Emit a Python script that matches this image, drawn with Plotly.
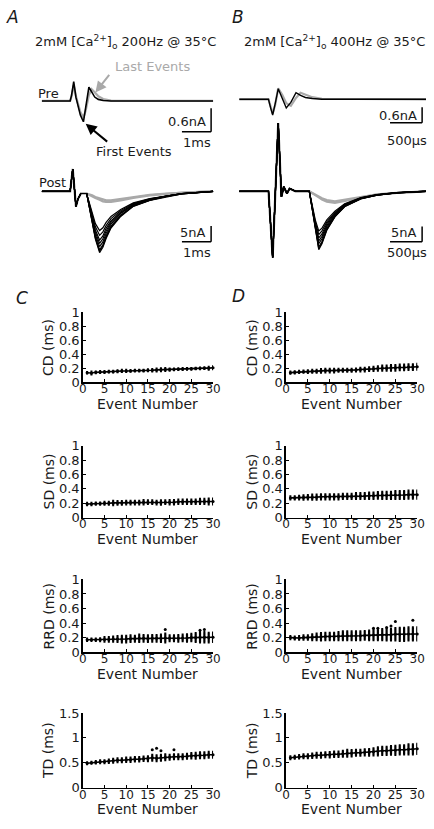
import plotly.graph_objects as go

W, H = 434, 829


def fx(x):
    return x / W


def fy(y):
    return 1 - y / H


# ---------------- Panel A traces (time ms, current nA) ----------------
A_PRE_T = [0, 0.967, 1.017, 1.09, 1.167, 1.233, 1.317, 1.423, 1.5, 1.61, 1.7, 1.81, 1.933, 2.1, 2.367, 5.867]
A_PRE_FIRST = [0, 0, 0.15, 0.49, 0.09, -0.11, -0.36, -0.53, -0.11, 0.35, 0.24, 0.1, 0.04, 0.01, 0, 0]
A_PRE_LAST = [0, 0, 0.12, 0.40, 0.12, -0.05, -0.28, -0.42, -0.25, 0.15, 0.30, 0.22, 0.12, 0.05, 0.01, 0]

A_POST_T = [0, 0.967, 1.057, 1.167, 1.233, 1.333, 1.533, 1.61, 1.723, 1.833, 1.977, 2.09, 2.2,
            2.367, 2.7, 3.133, 3.7, 4.267, 4.8, 5.367, 5.867]
A_POST_FIRST_1 = [0, 0, 7.1, -4.8, -2.5, -0.7, -0.7, -4.2, -9.8, -15.2, -19.5, -17.8, -15.0, -11.7, -8.0, -4.8, -2.9, -1.7, -0.8, -0.4, 0]
A_POST_FIRST_2 = [0, 0, 7.1, -4.8, -2.5, -0.7, -0.7, -4.1, -9.5, -14.9, -19.0, -17.4, -14.6, -11.4, -7.8, -4.7, -2.85, -1.65, -0.8, -0.4, 0]
A_POST_FIRST_3 = [0, 0, 7.1, -4.8, -2.5, -0.7, -0.7, -4.0, -9.3, -14.6, -18.6, -17.0, -14.2, -11.1, -7.6, -4.6, -2.8, -1.6, -0.8, -0.4, 0]
A_POST_FIRST_4 = [0, 0, 7.1, -4.8, -2.5, -0.7, -0.7, -3.8, -8.8, -13.8, -17.6, -16.1, -13.4, -10.4, -7.1, -4.4, -2.6, -1.5, -0.75, -0.4, 0]
A_POST_FIRST_5 = [0, 0, 7.1, -4.8, -2.5, -0.7, -0.7, -3.6, -8.4, -13.0, -16.6, -15.1, -12.6, -9.9, -6.9, -4.25, -2.55, -1.5, -0.72, -0.38, 0]
A_POST_FIRST_6 = [0, 0, 7.1, -4.8, -2.5, -0.7, -0.7, -3.5, -8.0, -12.3, -15.5, -14.2, -11.8, -9.4, -6.6, -4.1, -2.5, -1.45, -0.7, -0.35, 0]
A_POST_FIRST_7 = [0, 0, 7.1, -4.8, -2.5, -0.7, -0.7, -3.3, -7.4, -11.3, -14.0, -12.9, -10.9, -8.7, -6.2, -3.9, -2.4, -1.4, -0.7, -0.35, 0]
A_POST_FIRST_8 = [0, 0, 7.1, -4.8, -2.5, -0.7, -0.7, -3.1, -6.8, -10.3, -12.5, -11.6, -9.9, -8.0, -5.8, -3.7, -2.3, -1.35, -0.7, -0.35, 0]
A_POST_LAST_1 = [0, 0, 7.1, -4.8, -2.5, -0.7, -0.7, -0.9, -1.3, -1.8, -2.3, -2.7, -2.9, -2.9, -2.5, -1.8, -1.1, -0.7, -0.4, -0.2, 0]
A_POST_LAST_2 = [0, 0, 7.1, -4.8, -2.5, -0.7, -0.7, -1.0, -1.5, -2.1, -2.7, -3.2, -3.4, -3.4, -2.9, -2.1, -1.3, -0.8, -0.45, -0.2, 0]

# ---------------- Panel B traces (time ms, current nA) ----------------
B_PRE_T = [0, 0.4545, 0.4848, 0.5197, 0.5606, 0.6061, 0.6667, 0.7318, 0.803, 0.8833, 0.9545, 1.0303, 1.1364, 1.2879, 2.9091]
B_PRE_FIRST = [0, 0, -0.3, -0.6, -0.15, 0.4, 0.05, -0.33, -0.12, 0.25, 0.15, 0.07, 0.03, 0, 0]
B_PRE_LAST = [0, 0, -0.25, -0.55, -0.2, 0.42, 0.18, -0.15, -0.25, 0.05, 0.25, 0.18, 0.08, 0.02, 0]

B_POST_T = [0, 0.4545, 0.4848, 0.5197, 0.553, 0.5758, 0.6061, 0.6364, 0.6561, 0.6924, 0.7424, 0.7833, 0.8788,
            1.0909, 1.1364, 1.1864, 1.2379, 1.2879, 1.3636, 1.4894, 1.6409, 1.8939, 2.147, 2.45, 2.853, 2.9091]
B_POST_FIRST_1 = [0, 0, -10, -21.7, -5, 8, 22.4, 8, -1.8, 1.5, -0.7, 0.9, 0, 0, -6.1, -13.6, -19.2, -17.2, -12.8, -8.4, -5.1, -2.5, -1.3, -0.5, 0, 0]
B_POST_FIRST_2 = [0, 0, -10, -21.7, -5, 8, 22.4, 8, -1.8, 1.5, -0.7, 0.9, 0, 0, -6.0, -13.3, -18.8, -16.9, -12.6, -8.3, -5.0, -2.45, -1.3, -0.5, 0, 0]
B_POST_FIRST_3 = [0, 0, -10, -21.7, -5, 8, 22.4, 8, -1.8, 1.5, -0.7, 0.9, 0, 0, -5.8, -13.0, -18.3, -16.5, -12.3, -8.1, -4.9, -2.4, -1.25, -0.5, 0, 0]
B_POST_FIRST_4 = [0, 0, -10, -21.7, -5, 8, 22.4, 8, -1.8, 1.5, -0.7, 0.9, 0, 0, -5.5, -12.3, -17.2, -15.6, -11.7, -7.8, -4.7, -2.3, -1.2, -0.5, 0, 0]
B_POST_FIRST_5 = [0, 0, -10, -21.7, -5, 8, 22.4, 8, -1.8, 1.5, -0.7, 0.9, 0, 0, -5.3, -11.7, -16.3, -14.8, -11.2, -7.5, -4.55, -2.25, -1.2, -0.5, 0, 0]
B_POST_FIRST_6 = [0, 0, -10, -21.7, -5, 8, 22.4, 8, -1.8, 1.5, -0.7, 0.9, 0, 0, -5.0, -11.0, -15.3, -14.0, -10.6, -7.2, -4.4, -2.2, -1.15, -0.45, 0, 0]
B_POST_FIRST_7 = [0, 0, -10, -21.7, -5, 8, 22.4, 8, -1.8, 1.5, -0.7, 0.9, 0, 0, -4.7, -10.3, -14.2, -13.0, -10.0, -6.9, -4.25, -2.15, -1.1, -0.45, 0, 0]
B_POST_FIRST_8 = [0, 0, -10, -21.7, -5, 8, 22.4, 8, -1.8, 1.5, -0.7, 0.9, 0, 0, -4.4, -9.6, -13.0, -12.1, -9.4, -6.5, -4.1, -2.1, -1.1, -0.45, 0, 0]
B_POST_LAST_1 = [0, 0, -10, -21.7, -5, 8, 22.4, 8, -1.8, 1.5, -0.7, 0.9, 0, 0, -0.6, -1.1, -1.7, -2.3, -2.9, -3.3, -2.8, -1.8, -1.0, -0.5, -0.1, 0]
B_POST_LAST_2 = [0, 0, -10, -21.7, -5, 8, 22.4, 8, -1.8, 1.5, -0.7, 0.9, 0, 0, -0.7, -1.3, -2.0, -2.7, -3.4, -3.8, -3.2, -2.0, -1.1, -0.55, -0.1, 0]

# ---------------- Panels C and D (event number vs ms) ----------------
EVENTS = list(range(1, 31))

C_CD = [0.135, 0.13, 0.14, 0.145, 0.145, 0.15, 0.15, 0.155, 0.16, 0.16, 0.16, 0.165, 0.165, 0.165, 0.17,
        0.17, 0.175, 0.178, 0.18, 0.18, 0.182, 0.185, 0.187, 0.19, 0.19, 0.195, 0.197, 0.2, 0.2, 0.205]
C_CD_ERR = [0.01, 0.02, 0.012, 0.012, 0.012, 0.012, 0.012, 0.012, 0.015, 0.015, 0.012, 0.012, 0.012, 0.012, 0.012,
            0.015, 0.02, 0.02, 0.02, 0.015, 0.012, 0.012, 0.012, 0.012, 0.01, 0.01, 0.01, 0.012, 0.02, 0.02]
C_SD = [0.19, 0.19, 0.195, 0.195, 0.2, 0.2, 0.205, 0.205, 0.205, 0.21, 0.21, 0.21, 0.21, 0.215, 0.215,
        0.215, 0.21, 0.21, 0.215, 0.215, 0.215, 0.22, 0.22, 0.22, 0.22, 0.22, 0.225, 0.225, 0.225, 0.225]
C_SD_ERR = [0.015, 0.015, 0.015, 0.015, 0.02, 0.02, 0.03, 0.025, 0.025, 0.025, 0.025, 0.025, 0.025, 0.03, 0.025,
            0.025, 0.025, 0.03, 0.025, 0.03, 0.03, 0.03, 0.03, 0.03, 0.03, 0.03, 0.035, 0.035, 0.04, 0.04]
C_RRD = [0.17, 0.17, 0.17, 0.17, 0.175, 0.175, 0.18, 0.18, 0.18, 0.18, 0.185, 0.185, 0.19, 0.19, 0.185,
         0.19, 0.19, 0.19, 0.195, 0.19, 0.19, 0.19, 0.195, 0.195, 0.2, 0.2, 0.205, 0.205, 0.2, 0.205]
C_RRD_ERR = [0.015, 0.015, 0.015, 0.02, 0.03, 0.03, 0.035, 0.04, 0.045, 0.045, 0.045, 0.04, 0.05, 0.045, 0.045,
             0.045, 0.045, 0.05, 0.06, 0.04, 0.04, 0.045, 0.045, 0.05, 0.05, 0.06, 0.07, 0.07, 0.065, 0.065]
C_RRD_OUT_X = [19, 27, 28]
C_RRD_OUT_Y = [0.31, 0.3, 0.31]
C_TD = [0.49, 0.5, 0.51, 0.52, 0.52, 0.53, 0.54, 0.55, 0.55, 0.56, 0.56, 0.57, 0.57, 0.58, 0.58,
        0.6, 0.59, 0.6, 0.61, 0.61, 0.62, 0.62, 0.62, 0.63, 0.64, 0.64, 0.65, 0.65, 0.66, 0.66]
C_TD_ERR = [0.02, 0.02, 0.025, 0.03, 0.03, 0.035, 0.04, 0.04, 0.04, 0.045, 0.045, 0.045, 0.045, 0.045, 0.05,
            0.06, 0.06, 0.06, 0.06, 0.05, 0.05, 0.05, 0.05, 0.05, 0.055, 0.06, 0.06, 0.06, 0.06, 0.06]
C_TD_OUT_X = [16, 17, 18, 21]
C_TD_OUT_Y = [0.76, 0.79, 0.74, 0.76]

D_CD = [0.135, 0.14, 0.145, 0.15, 0.15, 0.155, 0.155, 0.16, 0.165, 0.165, 0.165, 0.17, 0.17, 0.17, 0.17,
        0.175, 0.18, 0.18, 0.185, 0.19, 0.195, 0.2, 0.2, 0.205, 0.205, 0.21, 0.21, 0.215, 0.215, 0.22]
D_CD_ERR = [0.015, 0.015, 0.015, 0.015, 0.02, 0.02, 0.02, 0.025, 0.025, 0.025, 0.025, 0.02, 0.02, 0.02, 0.02,
            0.02, 0.025, 0.025, 0.025, 0.03, 0.03, 0.035, 0.035, 0.04, 0.04, 0.04, 0.04, 0.04, 0.04, 0.04]
D_SD = [0.275, 0.275, 0.28, 0.28, 0.285, 0.285, 0.285, 0.29, 0.29, 0.29, 0.29, 0.29, 0.295, 0.295, 0.295,
        0.3, 0.3, 0.3, 0.305, 0.305, 0.31, 0.31, 0.31, 0.31, 0.315, 0.315, 0.315, 0.32, 0.32, 0.32]
D_SD_ERR = [0.02, 0.02, 0.025, 0.03, 0.03, 0.035, 0.035, 0.035, 0.035, 0.035, 0.035, 0.035, 0.035, 0.035, 0.035,
            0.04, 0.04, 0.04, 0.045, 0.045, 0.045, 0.05, 0.05, 0.05, 0.055, 0.055, 0.055, 0.055, 0.055, 0.055]
D_RRD = [0.2, 0.195, 0.195, 0.2, 0.2, 0.205, 0.21, 0.21, 0.215, 0.215, 0.215, 0.22, 0.225, 0.225, 0.225,
         0.225, 0.225, 0.23, 0.23, 0.235, 0.235, 0.24, 0.24, 0.24, 0.245, 0.245, 0.245, 0.25, 0.25, 0.25]
D_RRD_ERR = [0.02, 0.02, 0.025, 0.03, 0.03, 0.04, 0.045, 0.05, 0.05, 0.05, 0.05, 0.055, 0.06, 0.06, 0.06,
             0.06, 0.06, 0.06, 0.065, 0.07, 0.07, 0.075, 0.08, 0.08, 0.085, 0.09, 0.09, 0.09, 0.09, 0.09]
D_RRD_OUT_X = [20, 21, 23, 24, 25, 29]
D_RRD_OUT_Y = [0.33, 0.33, 0.34, 0.36, 0.42, 0.44]
D_TD = [0.6, 0.61, 0.62, 0.63, 0.63, 0.64, 0.65, 0.65, 0.66, 0.66, 0.67, 0.67, 0.68, 0.69, 0.69,
        0.7, 0.7, 0.71, 0.71, 0.72, 0.73, 0.74, 0.74, 0.75, 0.75, 0.76, 0.76, 0.77, 0.77, 0.78]
D_TD_ERR = [0.03, 0.03, 0.035, 0.04, 0.04, 0.045, 0.05, 0.05, 0.05, 0.055, 0.055, 0.055, 0.06, 0.07, 0.065,
            0.06, 0.06, 0.06, 0.065, 0.07, 0.08, 0.08, 0.08, 0.085, 0.09, 0.09, 0.09, 0.1, 0.1, 0.1]

X_TICKS = [0, 5, 10, 15, 20, 25, 30]
Y_TICKS_1 = [0, 0.2, 0.4, 0.6, 0.8, 1]
Y_TICKTEXT_1 = ["0", "0.2", "0.4", "0.6", "0.8", "1"]
Y_TICKS_TD = [0, 0.5, 1, 1.5]
Y_TICKTEXT_TD = ["0", "0.5", "1", "1.5"]

FONT = "DejaVu Sans"
GREY = "#a9a9a9"
TXT = "#1a1a1a"

fig = go.Figure()
layout = dict(
    width=W, height=H, margin=dict(l=0, r=0, t=0, b=0),
    paper_bgcolor="white", plot_bgcolor="rgba(0,0,0,0)", showlegend=False,
    font=dict(family=FONT, size=13, color=TXT),
)

# ---------- top axes ----------
A_X0, A_PXMS = 39, 30.0
B_X0, B_PXMS = 242, 66.0
hidden = dict(visible=False, showgrid=False, zeroline=False, fixedrange=True)
ax_a = dict(hidden, domain=[fx(30), fx(218)], range=[(30 - A_X0) / A_PXMS, (218 - A_X0) / A_PXMS])
ax_b = dict(hidden, domain=[fx(236), fx(434)], range=[(236 - B_X0) / B_PXMS, (434 - B_X0) / B_PXMS])


def yax(top, bot, base, ppn, anchor):
    return dict(hidden, domain=[fy(bot), fy(top)], range=[(base - bot) / ppn, (base - top) / ppn], anchor=anchor)


layout["xaxis"] = dict(ax_a, anchor="y")
layout["yaxis"] = yax(60, 135, 95.7, 40.0, "x")
layout["xaxis2"] = dict(ax_a, anchor="y2")
layout["yaxis2"] = yax(150, 262, 187.7, 3.2, "x2")
layout["xaxis3"] = dict(ax_b, anchor="y3")
layout["yaxis3"] = yax(60, 135, 94.0, 26.7, "x3")
layout["xaxis4"] = dict(ax_b, anchor="y4")
layout["yaxis4"] = yax(105, 265, 187.7, 3.1, "x4")


def line(t, v, xa, ya, color="black", width=1.2):
    fig.add_trace(go.Scatter(x=t, y=v, mode="lines", xaxis=xa, yaxis=ya, cliponaxis=False,
                             line=dict(color=color, width=width), hoverinfo="skip"))


line(A_PRE_T, A_PRE_LAST, "x", "y", GREY, 2.2)
line(A_PRE_T, A_PRE_FIRST, "x", "y", "black", 1.6)
for tr in [A_POST_LAST_1, A_POST_LAST_2]:
    line(A_POST_T, tr, "x2", "y2", GREY, 2.2)
for tr in [A_POST_FIRST_8, A_POST_FIRST_7, A_POST_FIRST_6, A_POST_FIRST_5,
           A_POST_FIRST_4, A_POST_FIRST_3, A_POST_FIRST_2, A_POST_FIRST_1]:
    line(A_POST_T, tr, "x2", "y2", "black", 1.2)
line(B_PRE_T, B_PRE_LAST, "x3", "y3", GREY, 2.2)
line(B_PRE_T, B_PRE_FIRST, "x3", "y3", "black", 1.4)
for tr in [B_POST_LAST_1, B_POST_LAST_2]:
    line(B_POST_T, tr, "x4", "y4", GREY, 2.2)
for tr in [B_POST_FIRST_8, B_POST_FIRST_7, B_POST_FIRST_6, B_POST_FIRST_5,
           B_POST_FIRST_4, B_POST_FIRST_3, B_POST_FIRST_2, B_POST_FIRST_1]:
    line(B_POST_T, tr, "x4", "y4", "black", 1.2)

# scale bars (data units)
shapes = []


def scalebar(xr, yr, x_end, y_low, dx, dy):
    s = dict(type="line", xref=xr, yref=yr, line=dict(color="black", width=1.5))
    shapes.append(dict(s, x0=x_end, x1=x_end, y0=y_low, y1=y_low + dy))
    shapes.append(dict(s, x0=x_end - dx, x1=x_end, y0=y_low, y1=y_low))


scalebar("x", "y", (213 - A_X0) / A_PXMS, (95.7 - 127) / 40.0, 1.0, 0.6)
scalebar("x2", "y2", (213 - A_X0) / A_PXMS, (187.7 - 239) / 3.2, 1.0, 5.0)
scalebar("x3", "y3", (430 - B_X0) / B_PXMS, (94 - 118) / 26.7, 0.5, 0.6)
scalebar("x4", "y4", (430 - B_X0) / B_PXMS, (187.7 - 239) / 3.1, 0.5, 5.0)

# ---------- bottom axes ----------
COLS = {"C": (81, 215), "D": (290, 425)}
ROWS = [(311, 382), (447, 520), (583, 657), (719, 795)]
NAMES = ["CD (ms)", "SD (ms)", "RRD (ms)", "TD (ms)"]
SERIES = {
    "C": [(C_CD, C_CD_ERR, None, None), (C_SD, C_SD_ERR, None, None),
          (C_RRD, C_RRD_ERR, C_RRD_OUT_X, C_RRD_OUT_Y), (C_TD, C_TD_ERR, C_TD_OUT_X, C_TD_OUT_Y)],
    "D": [(D_CD, D_CD_ERR, None, None), (D_SD, D_SD_ERR, None, None),
          (D_RRD, D_RRD_ERR, D_RRD_OUT_X, D_RRD_OUT_Y), (D_TD, D_TD_ERR, None, None)],
}
annotations = []
idx = 5
for col in ["C", "D"]:
    x0, x1 = COLS[col]
    for r, (top, bot) in enumerate(ROWS):
        xa, ya = f"x{idx}", f"y{idx}"
        td = (r == 3)
        layout[f"xaxis{idx}"] = dict(
            domain=[fx(x0), fx(x1)], range=[0, 30], anchor=ya, tickvals=X_TICKS,
            showline=True, linecolor="black", linewidth=1.5, ticks="inside", ticklen=3,
            tickcolor="black", showgrid=False, zeroline=False, fixedrange=True,
            ticklabelstandoff=-5,
            tickfont=dict(family=FONT, size=12, color=TXT))
        layout[f"yaxis{idx}"] = dict(
            domain=[fy(bot), fy(top)], range=[0, 1.5] if td else [0, 1], anchor=xa,
            tickvals=Y_TICKS_TD if td else Y_TICKS_1, ticktext=Y_TICKTEXT_TD if td else Y_TICKTEXT_1,
            showline=True, linecolor="black", linewidth=1.5, ticks="inside", ticklen=3,
            tickcolor="black", showgrid=False, zeroline=False, fixedrange=True,
            ticklabelstandoff=-1,
            tickfont=dict(family=FONT, size=13, color=TXT))
        vals, errs, ox, oy = SERIES[col][r]
        fig.add_trace(go.Scatter(
            x=EVENTS, y=vals, mode="lines+markers", xaxis=xa, yaxis=ya, cliponaxis=False,
            line=dict(color="black", width=1.6), marker=dict(color="black", size=3),
            error_y=dict(type="data", array=errs, color="black", thickness=2.2, width=1),
            hoverinfo="skip"))
        if ox:
            fig.add_trace(go.Scatter(x=ox, y=oy, mode="markers", xaxis=xa, yaxis=ya, cliponaxis=False,
                                     marker=dict(color="black", size=3), hoverinfo="skip"))
        annotations.append(dict(text="Event Number", x=fx((x0 + x1) / 2), y=fy(bot + 22),
                                xref="paper", yref="paper", showarrow=False,
                                font=dict(family=FONT, size=14, color=TXT),
                                xanchor="center", yanchor="middle"))
        annotations.append(dict(text=NAMES[r], x=fx(x0 - 35), y=fy((top + bot) / 2),
                                xref="paper", yref="paper", showarrow=False, textangle=-90,
                                font=dict(family=FONT, size=14, color=TXT),
                                xanchor="center", yanchor="middle"))
        idx += 1


def text(t, x, y, size=13, color=TXT, xanchor="center", italic=False):
    annotations.append(dict(text=f"<i>{t}</i>" if italic else t, x=fx(x), y=fy(y), xref="paper",
                            yref="paper", showarrow=False, xanchor=xanchor, yanchor="middle",
                            font=dict(family=FONT, size=size, color=color)))


text("A", 9, 10, 17, italic=True)
text("B", 241, 10, 17, italic=True)
text("C", 18, 296, 17, italic=True)
text("D", 241, 294, 17, italic=True)
text("2mM [Ca<sup>2+</sup>]<sub>o</sub> 200Hz @ 35°C", 125, 36, 13)
text("2mM [Ca<sup>2+</sup>]<sub>o</sub> 400Hz @ 35°C", 340, 36, 13)
text("Pre", 46, 88, 13)
text("Post", 50, 179, 13)
text("Last Events", 153, 61, 13, GREY)
text("First Events", 134, 147, 13)
text("0.6nA", 210, 117, 13, xanchor="right")
text("1ms", 198, 138, 13)
text("5nA", 210, 230, 13, xanchor="right")
text("1ms", 198, 250, 13)
text("0.6nA", 427, 110, 13, xanchor="right")
text("500µs", 414, 136, 13)
text("5nA", 427, 230, 13, xanchor="right")
text("500µs", 414, 250, 13)

# arrows
annotations.append(dict(text="", x=fx(94), y=fy(87), xref="paper", yref="paper", showarrow=True,
                        ax=15, ay=-19, arrowhead=2, arrowsize=1.1, arrowwidth=2, arrowcolor=GREY))
annotations.append(dict(text="", x=fx(84), y=fy(119), xref="paper", yref="paper", showarrow=True,
                        ax=23, ay=19, arrowhead=2, arrowsize=1.1, arrowwidth=2, arrowcolor="black"))

layout["shapes"] = shapes
layout["annotations"] = annotations
fig.update_layout(**layout)
fig.write_html("out.html", config={"displayModeBar": False, "staticPlot": True},
               post_script="document.body.style.margin='0';document.body.style.overflow='hidden';")
